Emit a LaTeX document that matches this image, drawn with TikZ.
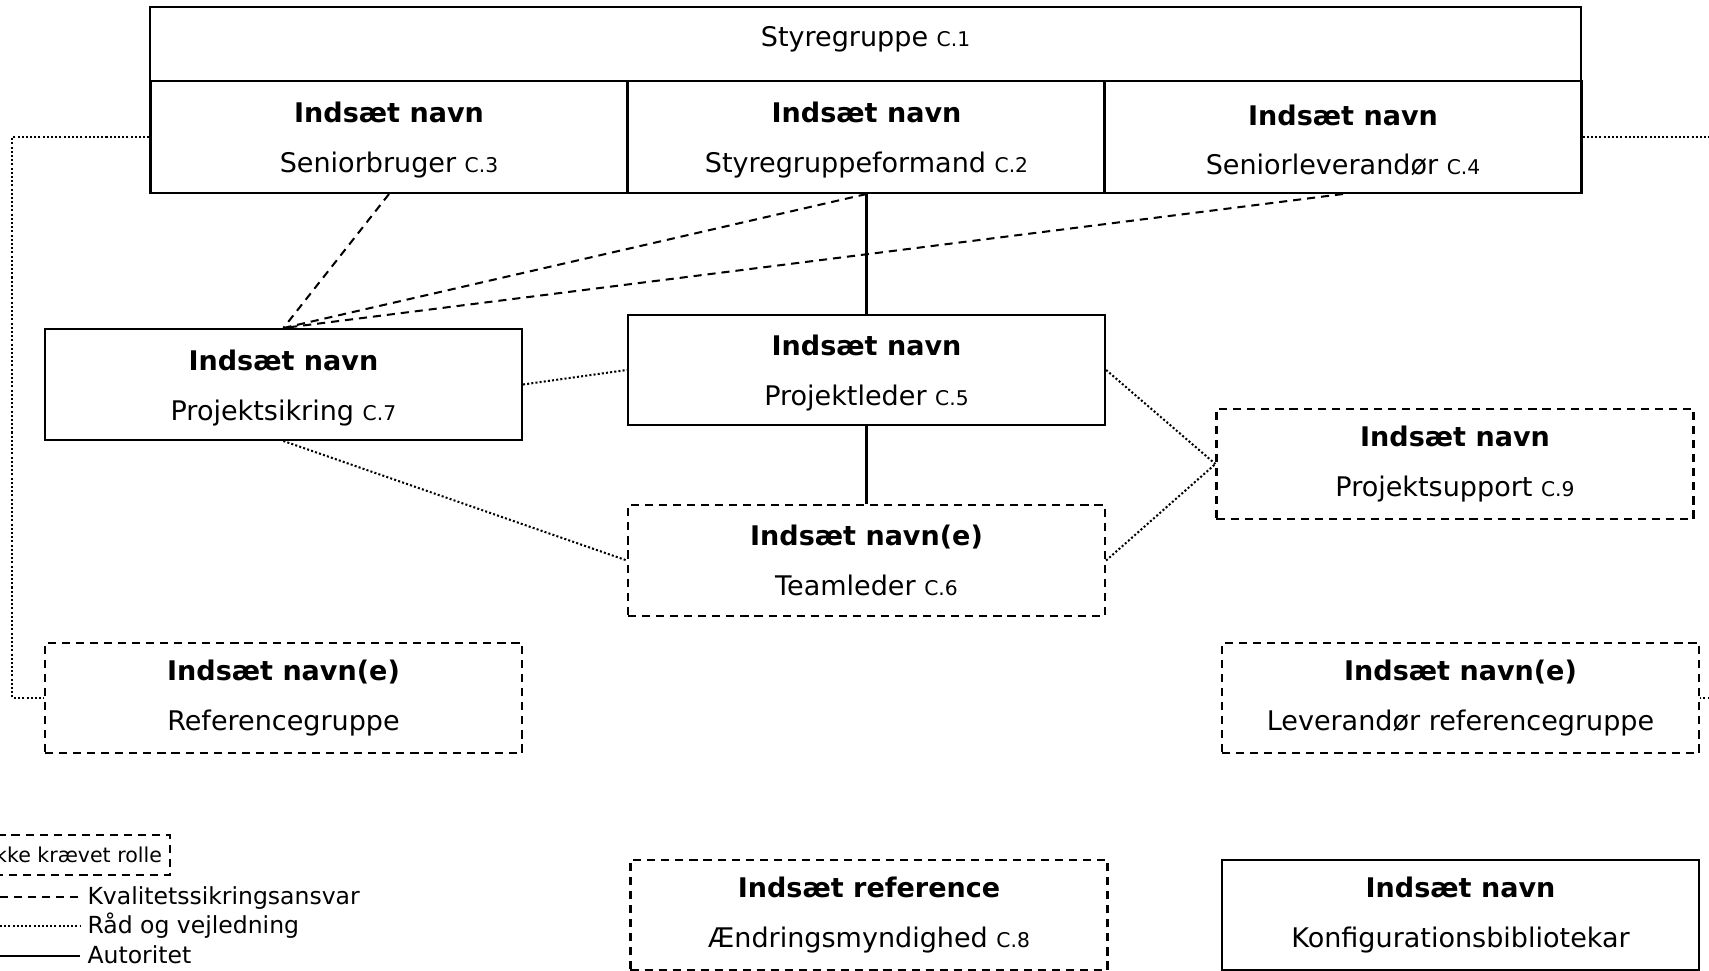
\documentclass[tikz,border=0pt]{standalone}
\usepackage{fontspec}
\setmainfont{DejaVu Sans}

\newcommand{\rolenr}[1]{{\fontsize{7.5}{9}\selectfont #1}}

\tikzset{
  role/.style={draw, line width=0.8pt, minimum width=176.5pt, minimum height=41pt,
    inner sep=0pt, align=center, font=\fontsize{10}{12}\selectfont},
  lowrole/.style={role, text height=28.5pt},
  optrole/.style={role, dash pattern=on 3pt off 2.2pt},
  qa/.style={line width=0.75pt, dash pattern=on 3pt off 2.2pt},
  adv/.style={line width=0.75pt, dash pattern=on 0.75pt off 0.8pt},
  auth/.style={line width=0.8pt}
}

\begin{document}
\begin{tikzpicture}[x=0.37pt, y=-0.37pt]
  \useasboundingbox (0,0) rectangle (1709,971);
  \clip (0,0) rectangle (1709,971);
  % styregruppe
  \node[role, minimum width=529.5pt, minimum height=27.4pt, text depth=5.5pt] (sg) at (865.5,44) {Styregruppe \rolenr{C.1}};
  \foreach \n/\x/\txt in {sb/389/Seniorbruger \rolenr{C.3}, sf/866.5/Styregruppeformand \rolenr{C.2}, sl/1343/Seniorleverandør \rolenr{C.4}}
  {
    \node[lowrole, minimum height=41.4pt] (\n) at (\x,137) {\textbf{Indsæt navn}\\[6.4pt]\txt};
  }
  % projekt
  \node[lowrole] (ps) at (283.4,384.5) {\textbf{Indsæt navn}\\[6.4pt]Projektsikring \rolenr{C.7}};
  \node[lowrole] (pl) at (866.5,370) {\textbf{Indsæt navn}\\[6.4pt]Projektleder \rolenr{C.5}};
  \node[optrole] (tl) at (866.5,560.5) {\textbf{Indsæt navn(e)}\\[6.4pt]Teamleder \rolenr{C.6}};
  \node[optrole] (psu) at (1455,464) {\textbf{Indsæt navn}\\[6.4pt]Projektsupport \rolenr{C.9}};
  \node[optrole] (rg) at (283.5,698) {\textbf{Indsæt navn(e)}\\[6.4pt]Referencegruppe};
  \node[optrole] (lrg) at (1460.5,698) {\textbf{Indsæt navn(e)}\\[6.4pt]Leverandør referencegruppe};
  \node[optrole] (am) at (869,915) {\textbf{Indsæt reference}\\[6.4pt]Ændringsmyndighed \rolenr{C.8}};
  \node[role] (kb) at (1460.5,915) {\textbf{Indsæt navn}\\[6.4pt]Konfigurationsbibliotekar};

  % forbindelser
  \draw[qa] (sb.south) -- (ps.north);
  \draw[qa] (sf.south) -- (ps.north);
  \draw[qa] (sl.south) -- (ps.north);
  \draw[auth] (sf.south) -- (pl.north);
  \draw[auth] (pl.south) -- (tl.north);
  \draw[adv] (ps.east) -- (pl.west);
  \draw[adv] (ps.south) -- (tl.west);
  \draw[adv] (pl.east) -- (psu.west);
  \draw[adv] (tl.east) -- (psu.west);
  \draw[adv] (sb.west) -- ++(-137,0) |- (rg.west);
  \draw[adv] (sl.east) -- ++(160,0) |- (lrg.east);

  % legend
  \node[draw, line width=0.7pt, dash pattern=on 3pt off 2.2pt, anchor=east, inner xsep=3pt,
    minimum height=14.8pt, font=\fontsize{7.6}{9}\selectfont] (opt) at (171,855) {Ikke krævet rolle};
  \foreach \y/\sty/\txt in {897/qa/Kvalitetssikringsansvar, 926/adv/Råd og vejledning, 956/auth/Autoritet}
  {
    \node[anchor=west, inner xsep=2.6pt, inner ysep=0pt, text height=0.73em, text depth=0.2em,
      font=\fontsize{8.7}{10}\selectfont] (lg\y) at (80,\y) {\txt};
    \coordinate (ls\y) at (0,\y);
    \draw[\sty] (ls\y) -- (lg\y.west);
  }
\end{tikzpicture}
\end{document}
